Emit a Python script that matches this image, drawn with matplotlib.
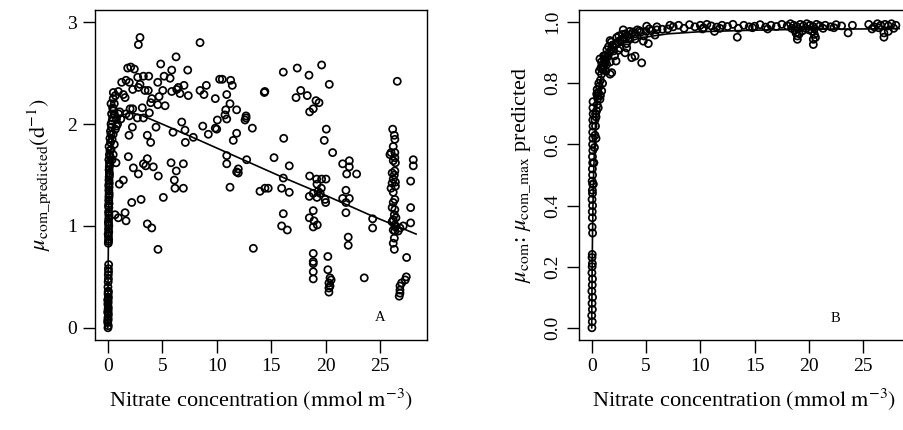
import matplotlib
matplotlib.use('Agg')
import matplotlib.pyplot as plt

plt.rcParams['font.family'] = ['Liberation Serif', 'DejaVu Serif']
plt.rcParams['mathtext.fontset'] = 'stix'

# ---- panel A: predicted community growth rate vs nitrate ----
# stations with nitrate near zero (dense column)
nitrate_zero = [0.02, 0.05, 0.0, 0.04, 0.02, 0.06, 0.0, 0.03, 0.05, 0.01, 0.04, 0.02, 0.06, 0.03, 0.05,
                0.04, 0.06, 0.05, 0.07, 0.06, 0.08,
                0.05, 0.08, 0.06, 0.09, 0.07, 0.1, 0.06, 0.09, 0.11, 0.08, 0.1, 0.12, 0.09, 0.11,
                0.13, 0.1, 0.12, 0.14, 0.11, 0.13, 0.15, 0.12, 0.14, 0.16,
                0.1, 0.15, 0.2, 0.12, 0.25, 0.2, 0.3, 0.25, 0.35, 0.3, 0.4, 0.45, 0.35, 0.5, 0.45, 0.6, 0.5, 0.7,
                0.3, 0.5, 0.6, 0.8, 0.9, 1.0, 0.7, 0.5, 0.4, 0.6, 0.3, 0.5, 0.4, 0.8, 1.1, 1.2,
                0.0, 0.03, 0.01, 0.04, 0.02, 0.07, 0.04, 0.08, 0.1, 0.07, 0.12, 0.09, 0.15, 0.18, 0.22]
mu_zero = [0.0, 0.02, 0.05, 0.08, 0.1, 0.13, 0.15, 0.18, 0.2, 0.23, 0.25, 0.28, 0.3, 0.33, 0.36,
           0.45, 0.48, 0.52, 0.55, 0.58, 0.62,
           0.83, 0.87, 0.9, 0.94, 0.97, 1.0, 1.04, 1.07, 1.1, 1.14, 1.18, 1.22, 1.25, 1.28,
           1.32, 1.35, 1.38, 1.42, 1.45, 1.48, 1.52, 1.55, 1.58, 1.62,
           1.65, 1.7, 1.74, 1.78, 1.82, 1.86, 1.9, 1.93, 1.97, 2.0, 2.03, 2.06, 2.1, 2.13, 2.16, 2.2, 2.25, 2.28,
           2.2, 2.15, 2.1, 2.05, 2.0, 2.1, 1.95, 1.9, 1.85, 1.8, 1.75, 1.7, 1.65, 1.98, 2.12, 2.05,
           0.07, 0.16, 0.27, 0.35, 0.4, 0.85, 0.92, 1.02, 1.12, 1.2, 1.3, 1.4, 1.5, 1.6, 1.68]

# scattered stations
nitrate_a = [2.96, 2.81, 8.47, 6.27, 4.86, 7.34, 5.87, 1.83, 2.11, 2.44, 5.17, 5.72, 2.75, 3.27, 3.76,
             1.28, 1.68, 1.98, 4.59, 6.48, 7.0, 9.05, 10.27, 10.51, 11.28, 11.43,
             5.05, 5.87, 6.33, 6.63, 8.47, 8.83, 7.39, 2.29, 2.81, 2.96, 3.42, 3.72,
             0.51, 0.97, 1.43, 1.59, 9.87, 10.92, 4.04, 4.71, 3.94, 4.59, 5.26, 11.22,
             10.83, 11.83, 3.17, 2.29, 2.05, 10.76, 10.92, 10.06, 12.69, 3.82, 1.68, 1.98, 2.72, 3.27,
             6.79, 2.26, 4.43, 7.09, 8.72, 9.87, 10.0, 5.99, 7.85, 9.23, 11.83, 1.95, 3.63, 3.94, 7.12, 11.52,
             1.89, 3.63, 10.92, 12.75, 5.81, 6.94, 3.27, 3.49, 4.18, 2.35, 10.92, 11.98,
             0.76, 2.81, 4.64, 6.29, 6.11, 6.17, 6.94, 1.06, 1.43, 2.2, 3.06, 5.1, 0.67, 0.97, 1.59, 1.68,
             3.63, 4.04, 4.61, 11.83, 11.98, 11.22,
             16.11, 17.39, 18.47, 19.63, 20.33, 14.37, 14.42, 17.71, 17.28, 18.31, 19.11, 19.39, 18.86, 18.53,
             12.6, 12.69, 13.27, 16.15, 20.06, 19.87, 20.64, 15.26, 16.66, 21.56, 22.17, 22.17, 26.57,
             16.11, 13.97, 14.43, 14.73, 15.96, 16.66, 18.53, 19.17, 19.63, 20.03,
             19.2, 19.6, 19.3, 18.86, 19.5, 18.5, 19.2, 19.95, 20.0,
             21.93, 22.84, 21.86, 21.56, 22.17, 21.86, 21.86, 22.07, 22.07, 24.31, 24.31,
             16.11, 15.96, 16.48, 18.86, 18.5, 18.93, 19.23, 18.86, 13.36,
             18.86, 18.86, 18.86, 18.86, 18.86,
             20.2, 20.2, 20.4, 20.5, 20.3, 20.4, 20.3, 20.3, 23.54]
mu_a = [2.85, 2.78, 2.8, 2.66, 2.59, 2.53, 2.53, 2.55, 2.56, 2.54, 2.47, 2.45, 2.46, 2.47, 2.47,
        2.41, 2.43, 2.41, 2.41, 2.36, 2.38, 2.38, 2.44, 2.44, 2.43, 2.38,
        2.33, 2.32, 2.34, 2.3, 2.33, 2.29, 2.28, 2.34, 2.36, 2.39, 2.33, 2.33,
        2.31, 2.32, 2.29, 2.26, 2.25, 2.29, 2.25, 2.27, 2.21, 2.19, 2.18, 2.2,
        2.14, 2.14, 2.16, 2.15, 2.15, 2.09, 2.05, 2.04, 2.06, 2.11, 2.1, 2.08, 2.06, 2.06,
        2.02, 1.97, 1.97, 1.94, 1.98, 1.96, 1.95, 1.92, 1.87, 1.9, 1.91, 1.89, 1.89, 1.82, 1.82, 1.84,
        1.68, 1.66, 1.69, 1.65, 1.62, 1.61, 1.61, 1.59, 1.58, 1.57, 1.61, 1.56,
        1.62, 1.51, 1.49, 1.54, 1.45, 1.37, 1.37, 1.41, 1.45, 1.23, 1.26, 1.28, 1.11, 1.08, 1.13, 1.05,
        1.02, 0.98, 0.77, 1.53, 1.52, 1.38,
        2.51, 2.55, 2.48, 2.58, 2.39, 2.31, 2.32, 2.33, 2.26, 2.28, 2.23, 2.21, 2.15, 2.12,
        2.04, 2.08, 1.96, 1.86, 1.95, 1.84, 1.72, 1.67, 1.59, 1.61, 1.64, 1.58, 2.42,
        1.47, 1.34, 1.37, 1.37, 1.37, 1.33, 1.49, 1.46, 1.46, 1.46,
        1.41, 1.37, 1.34, 1.32, 1.32, 1.29, 1.28, 1.26, 1.23,
        1.51, 1.51, 1.35, 1.27, 1.27, 1.23, 1.13, 0.89, 0.81, 1.07, 0.98,
        1.12, 1.0, 0.96, 1.15, 1.08, 1.05, 1.01, 0.99, 0.78,
        0.73, 0.65, 0.63, 0.55, 0.48,
        0.7, 0.57, 0.49, 0.47, 0.44, 0.41, 0.39, 0.35, 0.49]

# stations around 26-28 mmol m-3
nitrate_high = [26.15, 26.3, 26.35, 26.2, 26.0, 25.9, 26.35, 26.35, 26.2, 26.35, 26.3, 26.2, 26.1, 26.0,
                26.4, 26.35, 26.2, 26.1, 26.35, 26.3, 26.2, 26.35, 26.2, 26.35, 26.2, 26.3,
                26.4, 26.1, 26.4, 26.2, 26.45, 26.1, 26.4, 26.3,
                28.04, 28.04, 27.8, 27.8, 27.8, 27.12, 26.82, 26.66, 27.43,
                27.4, 27.3, 26.97, 26.82, 26.82, 26.82, 26.75]
mu_high = [1.95, 1.89, 1.85, 1.78, 1.72, 1.7, 1.72, 1.67, 1.64, 1.54, 1.5, 1.46, 1.42, 1.37,
           1.39, 1.26, 1.23, 1.18, 1.16, 1.11, 1.06, 1.01, 0.96, 0.95, 0.83, 0.77,
           1.62, 1.52, 1.43, 1.33, 1.08, 1.04, 0.99, 0.88,
           1.65, 1.59, 1.44, 1.18, 1.03, 1.0, 0.98, 0.95, 0.69,
           0.5, 0.47, 0.44, 0.41, 0.37, 0.34, 0.31]

# fitted curve A
fit_a_x = [0.0, 0.01, 0.03, 0.06, 0.1, 0.15, 0.25, 0.4, 0.7, 1.2, 2.0, 3.0, 5.0, 8.0, 12.0, 16.0, 20.0, 24.0, 28.3]
fit_a_y = [0.0, 0.2, 0.5, 0.85, 1.2, 1.45, 1.7, 1.88, 2.0, 2.08, 2.11, 2.09, 2.0, 1.86, 1.67, 1.48, 1.3, 1.11, 0.92]

# ---- panel B: mu_com : mu_com_max predicted ----
nitrate_b_zero = [0.02, 0.05, 0.0, 0.06, 0.03, 0.08, 0.01, 0.05, 0.07, 0.02, 0.04,
                  0.06, 0.03, 0.05, 0.08, 0.04, 0.06,
                  0.05, 0.08, 0.03, 0.07, 0.06, 0.09, 0.04, 0.08, 0.06, 0.09,
                  0.07, 0.1, 0.08, 0.11, 0.09, 0.12, 0.1, 0.13, 0.11, 0.12]
ratio_b_zero = [0.0, 0.02, 0.04, 0.06, 0.08, 0.1, 0.12, 0.14, 0.16, 0.18, 0.2,
                0.21, 0.23, 0.24, 0.31, 0.33, 0.36,
                0.38, 0.4, 0.42, 0.44, 0.45, 0.47, 0.48, 0.5, 0.52, 0.54,
                0.56, 0.58, 0.6, 0.62, 0.64, 0.66, 0.68, 0.7, 0.72, 0.74]

nitrate_b = [0.15, 0.2, 0.25, 0.3, 0.35, 0.4, 0.45, 0.5, 0.55, 0.6, 0.7, 0.8, 0.9, 1.0, 1.1, 1.2, 1.3, 1.4,
             1.5, 1.6, 1.8, 2.0, 2.2, 2.4, 2.6, 2.8, 3.0, 3.3, 3.6, 4.0, 4.5, 5.0, 5.5, 6.0, 6.5, 7.0,
             0.3, 0.5, 0.7, 0.76, 0.9, 1.1, 1.4, 1.69, 1.8, 2.3, 2.8, 2.9, 3.5, 4.2, 5.06, 6.0, 7.2,
             0.4, 0.46, 0.6, 0.8, 1.0, 1.07, 1.3, 1.7, 2.0, 2.1, 2.6, 3.2, 3.5, 4.0, 4.8,
             1.38, 1.69, 1.84, 2.24, 3.07, 3.22, 3.68, 3.99, 4.6, 4.75, 5.21, 5.83, 2.45, 0.92, 0.76,
             0.35, 0.55, 0.65, 0.85, 0.95, 1.15, 1.25, 1.55, 1.9, 2.5, 3.1, 3.8, 4.4, 5.3,
             7.5, 8.0, 8.5, 9.0, 9.5, 10.0, 10.3, 10.6, 11.0, 11.5, 12.0, 12.5, 13.0, 13.5, 14.0, 14.5,
             15.0, 15.5, 16.0, 16.5, 17.0, 17.5, 18.0, 18.3, 18.6, 18.9, 19.2, 19.5, 19.8, 20.1, 20.4,
             20.7, 21.0, 21.5, 22.0, 22.5, 23.0, 24.0, 25.5, 26.0, 26.3, 26.6, 27.0, 27.3, 27.6, 28.0,
             10.2, 11.8, 14.8, 16.2, 18.4, 18.7, 19.0, 19.4, 19.7, 20.0, 20.5, 21.3, 22.3, 25.8, 26.4, 27.8,
             13.4, 11.3, 18.93, 18.93, 19.1, 20.4, 20.4, 20.6, 20.5, 23.6, 26.9, 26.9, 27.3, 18.8, 20.3]
ratio_b = [0.47, 0.54, 0.59, 0.63, 0.66, 0.69, 0.71, 0.73, 0.75, 0.77, 0.79, 0.81, 0.83, 0.845, 0.855, 0.865,
           0.875, 0.885, 0.89, 0.9, 0.91, 0.92, 0.93, 0.935, 0.94, 0.945, 0.95, 0.955, 0.96, 0.962, 0.967,
           0.97, 0.972, 0.975, 0.977, 0.978,
           0.68, 0.78, 0.84, 0.88, 0.87, 0.89, 0.91, 0.94, 0.935, 0.95, 0.96, 0.975, 0.97, 0.975, 0.987,
           0.985, 0.99,
           0.62, 0.765, 0.72, 0.76, 0.8, 0.846, 0.84, 0.87, 0.906, 0.89, 0.915, 0.93, 0.944, 0.945, 0.955,
           0.862, 0.83, 0.835, 0.873, 0.9, 0.916, 0.884, 0.889, 0.867, 0.938, 0.93, 0.958, 0.908, 0.775, 0.748,
           0.7, 0.76, 0.8, 0.85, 0.86, 0.88, 0.89, 0.92, 0.925, 0.955, 0.962, 0.968, 0.972, 0.978,
           0.985, 0.99, 0.98, 0.992, 0.985, 0.99, 0.982, 0.993, 0.988, 0.984, 0.99, 0.986, 0.993, 0.98, 0.99,
           0.985, 0.987, 0.992, 0.984, 0.99, 0.986, 0.993, 0.988, 0.995, 0.99, 0.985, 0.993, 0.988, 0.995,
           0.99, 0.985, 0.993, 0.988, 0.99, 0.985, 0.992, 0.988, 0.99, 0.993, 0.985, 0.995, 0.99, 0.993,
           0.988, 0.995, 0.99,
           0.978, 0.98, 0.982, 0.978, 0.98, 0.975, 0.978, 0.972, 0.98, 0.975, 0.978, 0.98, 0.982, 0.978,
           0.982, 0.98,
           0.951, 0.97, 0.944, 0.955, 0.962, 0.927, 0.944, 0.95, 0.96, 0.965, 0.951, 0.965, 0.97, 0.965, 0.97]

# fitted curve B
fit_b_x = [0.0, 0.002, 0.005, 0.01, 0.02, 0.03, 0.05, 0.08, 0.12, 0.17, 0.25, 0.35, 0.5, 0.7, 1.0, 1.4,
           2.0, 3.0, 4.5, 7.0, 10.0, 15.0, 20.0, 25.0, 28.3]
fit_b_y = [0.0, 0.012, 0.029, 0.055, 0.104, 0.148, 0.227, 0.316, 0.408, 0.492, 0.586, 0.666, 0.735,
           0.794, 0.842, 0.879, 0.908, 0.932, 0.949, 0.962, 0.969, 0.974, 0.977, 0.978, 0.979]

fig = plt.figure(figsize=(9.04, 4.30), dpi=100)
ax1 = fig.add_axes([95 / 904, 90 / 430, 332 / 904, 330 / 430])
ax2 = fig.add_axes([579 / 904, 90 / 430, 331 / 904, 330 / 430])

pt = dict(s=26, facecolors='none', edgecolors='black', linewidths=1.25, zorder=3)

ax1.scatter(nitrate_zero, mu_zero, **pt)
ax1.scatter(nitrate_a, mu_a, **pt)
ax1.scatter(nitrate_high, mu_high, **pt)
ax1.plot(fit_a_x, fit_a_y, color='black', lw=1.2, zorder=2)
ax1.set_xlim(-1.17, 29.3)
ax1.set_ylim(-0.12, 3.12)
ax1.set_xticks([0, 5, 10, 15, 20, 25])
ax1.set_yticks([0, 1, 2, 3])
ax1.set_ylabel(r'$\mu_{\mathrm{com\_predicted}}\left(\mathrm{d}^{-1}\right)$', fontsize=16, labelpad=10)
ax1.text(25.0, 0.1, 'A', fontsize=10.5, ha='center', va='center')

ax2.scatter(nitrate_b_zero, ratio_b_zero, **pt)
ax2.scatter(nitrate_b, ratio_b, **pt)
ax2.plot(fit_b_x, fit_b_y, color='black', lw=1.2, zorder=2)
ax2.set_xlim(-1.17, 29.3)
ax2.set_ylim(-0.04, 1.04)
ax2.set_xticks([0, 5, 10, 15, 20, 25])
ax2.set_yticks([0.0, 0.2, 0.4, 0.6, 0.8, 1.0])
ax2.set_yticklabels(['0.0', '0.2', '0.4', '0.6', '0.8', '1.0'], rotation=90, va='center')
ax2.set_ylabel(r'$\mu_{\mathrm{com}}$: $\mu_{\mathrm{com\_max}}$ predicted', fontsize=16, labelpad=8)
ax2.text(22.4, 0.03, 'B', fontsize=10.5, ha='center', va='center')

for ax in (ax1, ax2):
    for sp in ax.spines.values():
        sp.set_linewidth(1.0)
    ax.tick_params(direction='out', length=9, width=1.0, labelsize=14, pad=4)
    ax.set_xlabel(r'Nitrate concentration $\left(\mathrm{mmol\ m^{-3}}\right)$', fontsize=16, labelpad=8)

plt.savefig('out.png', dpi=100)
